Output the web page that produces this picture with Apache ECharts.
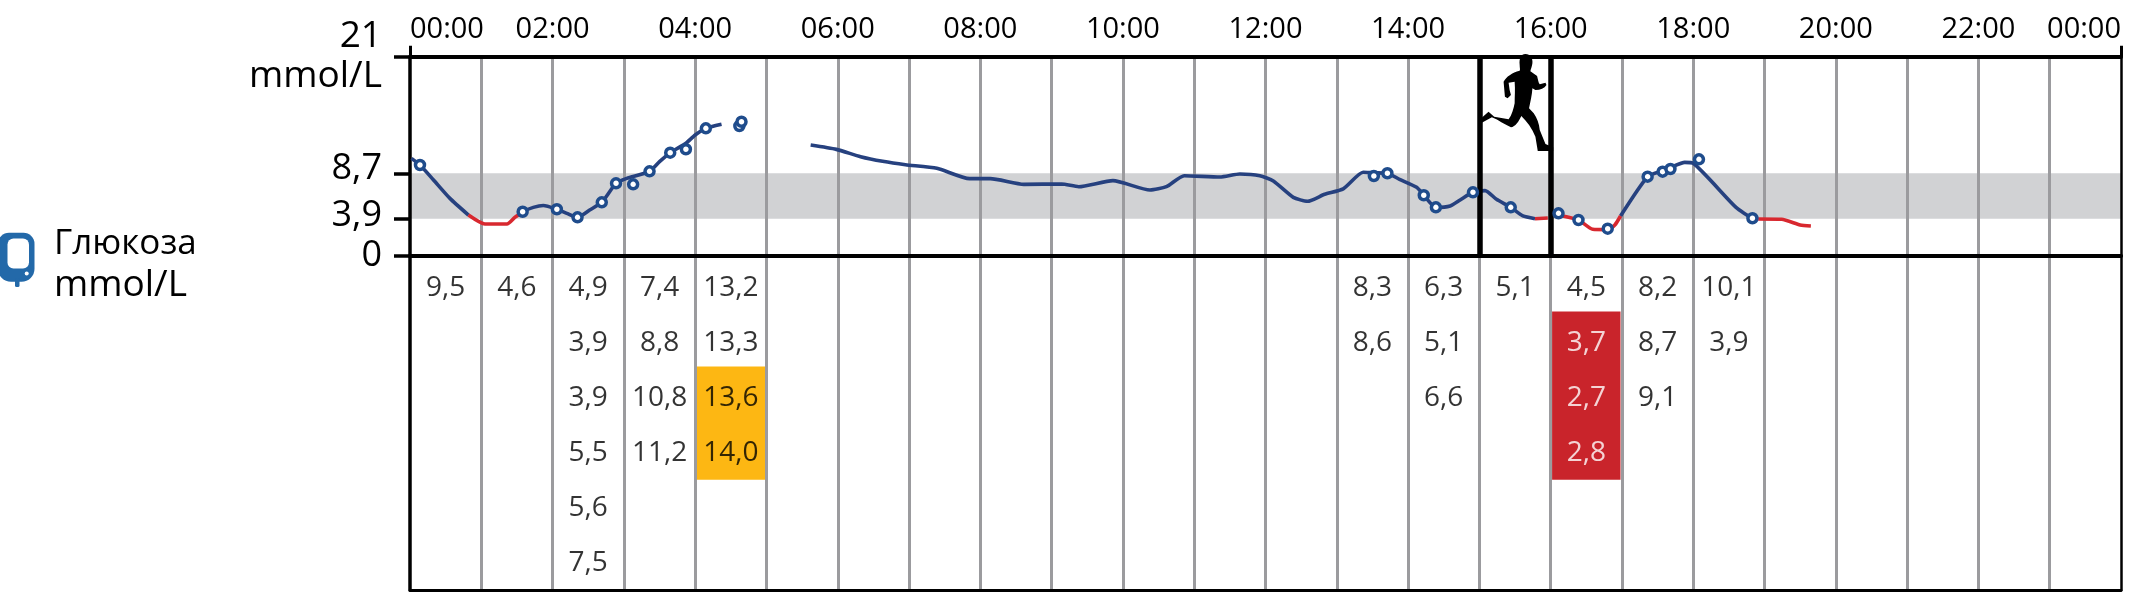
<!DOCTYPE html>
<html>
<head>
<meta charset="utf-8">
<style>html,body{margin:0;padding:0;background:#fff}#c{width:2134px;height:606px}</style>
<script src="https://cdn.jsdelivr.net/npm/echarts@6/dist/echarts.min.js"></script>
</head>
<body>
<div id="c"></div>
<script>
const FONT = '"Open Sans"';
const timeLabelHours = [0,2,4,6,8,10,12,14,16,18,20,22,24];
const yTicks = [0,3.9,8.7,21];
const lowLimit = 3.9, highLimit = 8.7;

// glucose curve [hour, mmol/L]; null = break
const navyCurve = [
  [0.02,10.27],[0.14,9.57],[0.33,7.99],[0.56,6.05],[0.82,4.29],null,
  [1.52,4.3],[1.58,4.64],[1.73,5.1],[1.87,5.3],[2.06,4.9],[2.2,4.47],[2.35,4.05],[2.52,4.82],[2.69,5.63],[2.89,7.64],[3.04,8.16],[3.36,8.9],[3.5,9.92],[3.65,10.87],[3.87,11.86],[4.0,12.74],[4.15,13.44],[4.37,13.87],null,
  [5.62,11.68],[5.98,11.22],[6.32,10.45],[6.63,9.96],[6.95,9.6],[7.39,9.22],[7.85,8.13],[8.14,8.13],[8.61,7.53],[9.14,7.57],[9.38,7.28],[9.86,7.92],[10.38,6.93],[10.61,7.28],[10.86,8.44],[11.36,8.3],[11.64,8.62],[11.92,8.44],[12.11,7.88],[12.39,6.16],[12.59,5.74],[12.83,6.48],[13.09,7.05],[13.37,8.8],[13.52,8.75],[13.71,8.7],[13.88,8.06],[14.12,7.22],[14.22,6.38],[14.39,5.1],[14.59,5.25],[14.73,5.88],[14.91,6.69],[15.08,6.87],[15.24,5.95],[15.44,5.1],[15.61,4.19],[15.78,3.9],null,
  [16.98,4.19],[17.36,8.34],[17.57,8.97],[17.68,9.3],[17.88,9.85],[18.0,9.75],[18.6,5.1],[18.83,3.95],[18.91,3.87]
];
const redCurve = [
  [0.82,4.29],[1.05,3.35],[1.36,3.35],[1.47,4.05],[1.52,4.3],null,
  [15.78,3.9],[15.96,3.98],null,
  [16.17,4.19],[16.39,3.77],[16.59,2.79],[16.8,2.75],[16.9,3.24],[16.98,4.19],null,
  [18.91,3.87],[19.24,3.84],[19.5,3.24],[19.65,3.13]
];
const meterReadings = [
  [0.14,9.57],[1.58,4.64],[2.06,4.9],[2.35,4.05],[2.69,5.63],[2.89,7.64],[3.13,7.53],[3.36,8.9],[3.65,10.87],[3.87,11.23],[4.15,13.44],[4.62,13.69],[4.65,14.14],
  [13.52,8.41],[13.71,8.7],[14.22,6.38],[14.39,5.1],[14.91,6.69],[15.44,5.1],[16.11,4.47],[16.39,3.77],[16.8,2.85],[17.36,8.34],[17.57,8.87],[17.68,9.15],[18.08,10.17],[18.83,3.95]
];
// table columns: hour -> readings
const col00 = ['9,5'];
const col01 = ['4,6'];
const col02 = ['4,9','3,9','3,9','5,5','5,6','7,5'];
const col03 = ['7,4','8,8','10,8','11,2'];
const col04 = ['13,2','13,3','13,6','14,0'];
const col13 = ['8,3','8,6'];
const col14 = ['6,3','5,1','6,6'];
const col15 = ['5,1'];
const col16 = ['4,5','3,7','2,7','2,8'];
const col17 = ['8,2','8,7','9,1'];
const col18 = ['10,1','3,9'];
const tableCols = [[0,col00],[1,col01],[2,col02],[3,col03],[4,col04],[13,col13],[14,col14],[15,col15],[16,col16],[17,col17],[18,col18]];
const lowCells = ['16:1','16:2','16:3'];
const exerciseHours = [15,16];
const runnerAt = [15.53,16.17];

const toLine = a => a.map(p => p === null ? ['-','-'] : p);
const tableData = [];
tableCols.forEach(([h,vals]) => vals.forEach((t,r) => {
  tableData.push({value:[h+0.5,r+0.52,t], label:{color: lowCells.includes(h+':'+r) ? '#ffffff' : '#000000'}});
}));

const RUNNER = 'path://M315,42 C330,42 338,55 336,70 C335,80 331,88 330,94 L350,108 C353,120 354,128 358,133 L375,128 L378,135 C372,145 360,150 345,150 L336,145 C335,165 330,185 326,205 L340,220 C350,235 356,250 358,270 L375,312 L398,322 L398,333 L352,333 L345,290 C335,265 320,245 303,228 C295,245 285,260 272,262 C255,255 235,240 215,232 L185,248 L183,235 L205,215 L222,230 L265,238 C275,225 280,205 283,190 C283,170 285,150 283,125 L265,128 L268,150 L272,165 L262,175 L254,170 L250,125 C258,110 275,98 298,92 C300,88 298,85 298,75 C296,55 302,42 315,42 Z';

const black = '#000000', gray = '#9b9b9e';
const chart = echarts.init(document.getElementById('c'), null, {renderer:'canvas'});
chart.setOption({
  animation:false,
  backgroundColor:'#fff',
  textStyle:{fontFamily:FONT},
  grid:[
    {left:410,width:1711,top:56.7,height:199},
    {left:410,width:1711,top:255.7,height:334.3}
  ],
  xAxis:[
    {gridIndex:0,type:'value',position:'top',min:0,max:24,interval:2,z:1,
     axisLine:{show:true,onZero:false,lineStyle:{color:black,width:4}},
     axisTick:{show:true,customValues:[0,24],length:11,lineStyle:{color:black,width:3}},
     splitLine:{show:false},
     axisLabel:{margin:12,fontFamily:FONT,fontSize:29,color:'#000',alignMinLabel:'left',alignMaxLabel:'right',
       customValues:timeLabelHours,
       formatter:v=>String(v%24).padStart(2,'0')+':00'}},
    {gridIndex:0,type:'value',position:'bottom',min:0,max:24,interval:1,z:1,
     axisLine:{show:true,onZero:false,lineStyle:{color:black,width:4}},axisTick:{show:false},axisLabel:{show:false},
     splitLine:{show:true,showMinLine:false,showMaxLine:false,lineStyle:{color:gray,width:3}}},
    {gridIndex:1,type:'value',position:'bottom',min:0,max:24,interval:1,z:1,
     axisLine:{show:true,onZero:false,lineStyle:{color:black,width:3}},axisTick:{show:false},axisLabel:{show:false},
     splitLine:{show:true,showMinLine:false,showMaxLine:false,lineStyle:{color:gray,width:3}}}
  ],
  yAxis:[
    {gridIndex:0,type:'value',min:0,max:21,z:3,
     axisLine:{show:true,onZero:false,lineStyle:{color:black,width:3.5}},
     axisTick:{show:true,customValues:yTicks,length:16,lineStyle:{color:black,width:3.5}},
     splitLine:{show:false},
     axisLabel:{margin:28,customValues:yTicks,fontFamily:FONT,fontSize:36,color:'#000',align:'right',
       formatter:v=> v===21 ? '{a|21}\n{a|mmol/L}' : v===8.7 ? '{b|8,7}' : v===3.9 ? '{c|3,9}' : '0',
       rich:{a:{fontFamily:FONT,fontSize:37,lineHeight:40,color:'#000',align:'right'},
             b:{fontFamily:FONT,fontSize:36,color:'#000',padding:[0,0,10,0]},
             c:{fontFamily:FONT,fontSize:36,color:'#000',padding:[0,0,6,0]}}}},
    {gridIndex:1,type:'value',min:-0.06,max:6,inverse:true,z:3,
     axisLine:{show:true,onZero:false,lineStyle:{color:black,width:3.5}},axisTick:{show:false},axisLabel:{show:false},splitLine:{show:false}},
    {gridIndex:0,type:'value',position:'right',min:0,max:21,z:3,
     axisLine:{show:true,onZero:false,lineStyle:{color:black,width:2.5}},axisTick:{show:false},axisLabel:{show:false},splitLine:{show:false}},
    {gridIndex:1,type:'value',position:'right',min:-0.06,max:6,inverse:true,z:3,
     axisLine:{show:true,onZero:false,lineStyle:{color:black,width:2.5}},axisTick:{show:false},axisLabel:{show:false},splitLine:{show:false}}
  ],
  series:[
    {type:'line',name:'band',xAxisIndex:0,yAxisIndex:0,data:[],z:0,silent:true,
     markArea:{z:0,silent:true,itemStyle:{color:'#d1d2d4'},data:[[{xAxis:0,yAxis:lowLimit},{xAxis:24,yAxis:highLimit}]]}},
    {type:'scatter',name:'boxes',xAxisIndex:2,yAxisIndex:1,data:[],z:0,silent:true,
     markArea:{z:0,silent:true,data:[
       [{coord:[4.02,1.95],itemStyle:{color:'#fdb713'}},{coord:[4.98,4]}],
       [{coord:[16.02,0.95],itemStyle:{color:'#c9242b'}},{coord:[16.98,4]}]
     ]}},
    {type:'line',name:'navy',xAxisIndex:0,yAxisIndex:0,data:toLine(navyCurve),showSymbol:false,smooth:0.2,z:4,
     lineStyle:{color:'#26417f',width:3.6},itemStyle:{color:'#26417f'}},
    {type:'line',name:'red',xAxisIndex:0,yAxisIndex:0,data:toLine(redCurve),showSymbol:false,smooth:0.2,z:4,
     lineStyle:{color:'#d8282f',width:3.6},itemStyle:{color:'#d8282f'}},
    {type:'line',name:'exercise',xAxisIndex:0,yAxisIndex:0,data:[],z:5,
     markLine:{silent:true,symbol:'none',z:5,label:{show:false},lineStyle:{color:black,width:5.5,type:'solid'},
       data:exerciseHours.map(h=>({xAxis:h}))}},
    {type:'scatter',name:'readings',xAxisIndex:0,yAxisIndex:0,data:meterReadings,z:6,symbol:'circle',symbolSize:9,
     itemStyle:{color:'#ffffff',borderColor:'#1f4c8c',borderWidth:3.5,opacity:1}},
    {type:'scatter',name:'runner',xAxisIndex:0,yAxisIndex:0,data:[runnerAt],z:7,symbol:RUNNER,symbolSize:[72,97],symbolKeepAspect:false,
     itemStyle:{color:'#000',opacity:1}},
    {type:'scatter',name:'table',xAxisIndex:2,yAxisIndex:1,data:tableData,z:6,symbolSize:0,
     label:{show:true,position:'inside',formatter:p=>p.value[2],fontFamily:FONT,fontSize:28,color:'#000'}}
  ],
  graphic:[
    {type:'rect',shape:{x:-2,y:232.7,width:36.5,height:49,r:[11,11,13,13]},style:{fill:'#2369a9'}},
    {type:'rect',shape:{x:15,y:278,width:4.5,height:9,r:1.5},style:{fill:'#2369a9'}},
    {type:'rect',shape:{x:7.5,y:238.5,width:21.5,height:30,r:6},style:{fill:'#ffffff'}},
    {type:'circle',shape:{cx:26.7,cy:273.5,r:2},style:{fill:'#ffffff'}},
    {type:'text',left:54,top:227,style:{text:'Глюкоза',fontFamily:FONT,fontSize:35,fill:'#000'}},
    {type:'text',left:54,top:267,style:{text:'mmol/L',fontFamily:FONT,fontSize:37,fill:'#000'}}
  ]
});
</script>
</body>
</html>
